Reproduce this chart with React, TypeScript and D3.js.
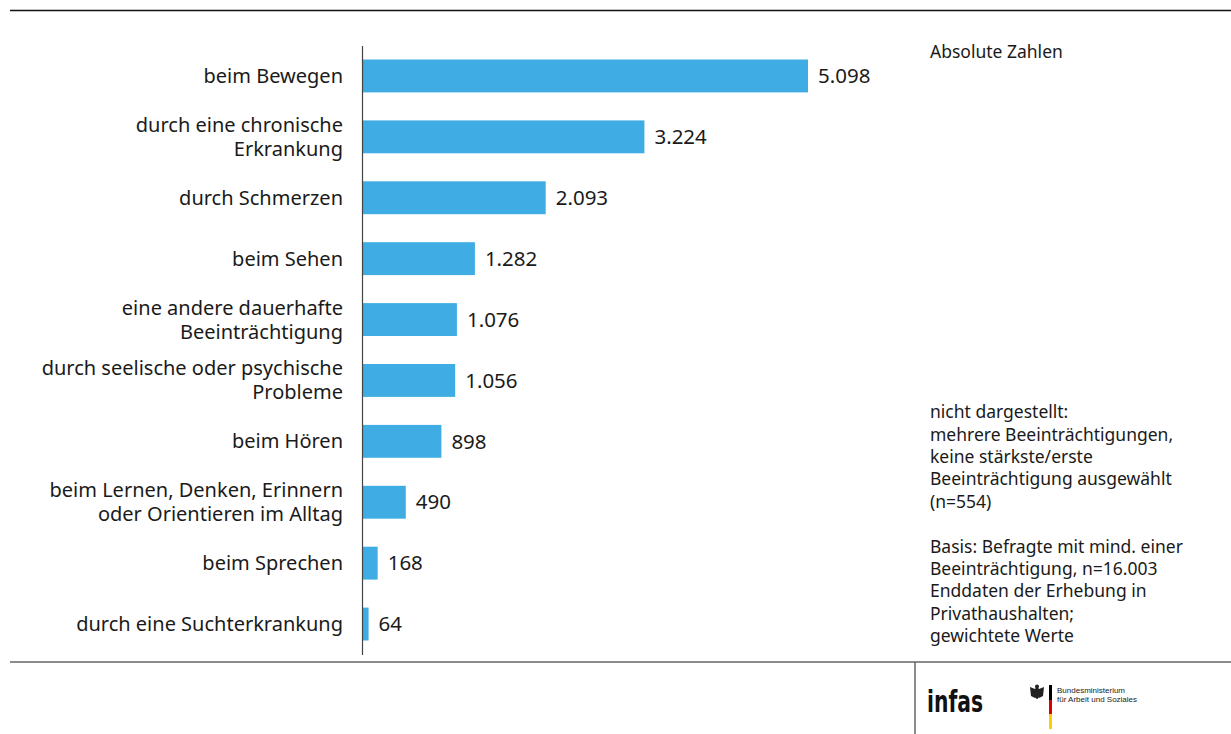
import React from "react";
import * as d3 from "d3";

const categories: string[][] = [
  ["beim Bewegen"],
  ["durch eine chronische", "Erkrankung"],
  ["durch Schmerzen"],
  ["beim Sehen"],
  ["eine andere dauerhafte", "Beeinträchtigung"],
  ["durch seelische oder psychische", "Probleme"],
  ["beim Hören"],
  ["beim Lernen, Denken, Erinnern", "oder Orientieren im Alltag"],
  ["beim Sprechen"],
  ["durch eine Suchterkrankung"],
];
const values: number[] = [5098, 3224, 2093, 1282, 1076, 1056, 898, 490, 168, 64];

const unitLabel = "Absolute Zahlen";
const noteLines: string[] = [
  "nicht dargestellt:",
  "mehrere Beeinträchtigungen,",
  "keine stärkste/erste",
  "Beeinträchtigung ausgewählt",
  "(n=554)",
  "",
  "Basis: Befragte mit mind. einer",
  "Beeinträchtigung, n=16.003",
  "Enddaten der Erhebung in",
  "Privathaushalten;",
  "gewichtete Werte",
];

const W = 1231;
const H = 734;
const FONT = "'Noto Sans', sans-serif";
const BAR = "#3fade3";

const de = d3.formatLocale({ decimal: ",", thousands: ".", grouping: [3], currency: ["", " €"] });
const fmt = de.format(",d");

export default function App() {
  const keys = categories.map((c) => c.join(" "));
  const y = d3.scaleBand<string>().domain(keys).range([45.5, 654.5]).paddingInner(0.46).paddingOuter(0.23);
  const x = d3.scaleLinear().domain([0, 5098]).range([363, 808]);
  const lineH = 24;

  return (
    <div style={{ position: "fixed", left: 0, top: 0 }}>
      <svg width={W} height={H} style={{ display: "block", background: "#fff" }} fontFamily={FONT}>
        <rect x={0} y={0} width={W} height={H} fill="#fff" />
        <line x1={10} x2={W} y1={10.5} y2={10.5} stroke="#111" strokeWidth={1.3} />
        <line x1={10} x2={W} y1={662} y2={662} stroke="#666" strokeWidth={1.5} />
        <line x1={915} x2={915} y1={662} y2={H} stroke="#666" strokeWidth={1.5} />

        {keys.map((k, i) => (
          <rect key={k} x={x(0)} y={y(k)} width={x(values[i]) - x(0)} height={y.bandwidth()} fill={BAR} />
        ))}
        <line x1={362.5} x2={362.5} y1={46} y2={655} stroke="#444" strokeWidth={1.2} />

        {keys.map((k, i) => {
          const cy = (y(k) as number) + y.bandwidth() / 2;
          const lines = categories[i];
          const start = cy - ((lines.length - 1) * lineH) / 2;
          return (
            <g key={"l" + k}>
              {lines.map((ln, j) => (
                <text key={j} x={343} y={start + j * lineH} dy="0.35em" textAnchor="end" fontSize={20} fill="#1a1a1a">
                  {ln}
                </text>
              ))}
              <text x={x(values[i]) + 10} y={cy} dy="0.35em" fontSize={20.5} fill="#1a1a1a">
                {fmt(values[i])}
              </text>
            </g>
          );
        })}

        <text x={930} y={52} dy="0.35em" fontSize={17.5} fill="#1a1a1a">{unitLabel}</text>
        {noteLines.map((ln, i) => (
          <text key={"n" + i} x={930} y={412 + i * 22.4} dy="0.35em" fontSize={17.5} fill="#1a1a1a">
            {ln}
          </text>
        ))}

        {/* logos */}
        <text x={927} y={712} fontFamily="'DejaVu Sans Condensed', 'Liberation Sans Narrow', sans-serif" fontWeight="bold" fontSize={30} fill="#111" textLength={56} lengthAdjust="spacingAndGlyphs">
          infas
        </text>
        <g transform="translate(1037,692)" fill="#222">
          <path d="M-7,-5 L-2,-3 L-2,6 L-6,4 Z M7,-5 L2,-3 L2,6 L6,4 Z" />
          <ellipse cx={0} cy={1} rx={2.6} ry={6} />
          <circle cx={0} cy={-5.5} r={2} />
        </g>
        <rect x={1049} y={685} width={3} height={15} fill="#000" />
        <rect x={1049} y={700} width={3} height={14} fill="#dd0000" />
        <rect x={1049} y={714} width={3} height={15} fill="#ffce00" />
        <text x={1057} y={693} fontSize={8} fontFamily="'Liberation Sans Narrow', sans-serif" fill="#222">Bundesministerium</text>
        <text x={1057} y={702} fontSize={8} fontFamily="'Liberation Sans Narrow', sans-serif" fill="#222">für Arbeit und Soziales</text>
      </svg>
    </div>
  );
}
